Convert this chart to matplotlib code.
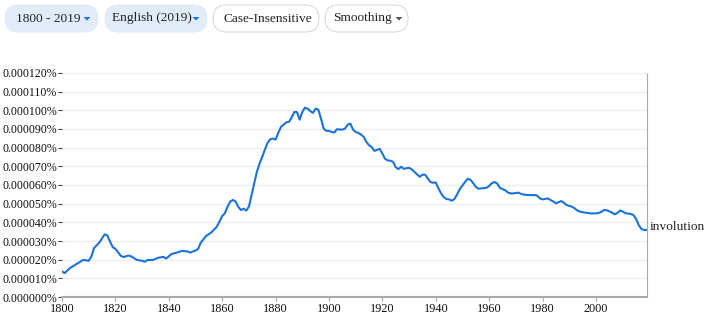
import numpy as np
import matplotlib
matplotlib.use('agg')
from matplotlib import pyplot as plt
from matplotlib.patches import FancyBboxPatch, Polygon

plt.rcParams['font.family'] = ['Liberation Serif', 'DejaVu Serif']

# data: values in millionths of a percent
years = [1800, 1801, 1803, 1805, 1808, 1810, 1811, 1812, 1814, 1816, 1817,
         1818, 1819, 1820, 1822, 1823, 1825, 1826, 1828, 1830, 1831, 1832,
         1834, 1836, 1838, 1839, 1841, 1843, 1845, 1847, 1848, 1850, 1851,
         1852, 1854, 1856, 1858, 1859, 1860, 1861, 1862, 1863, 1864, 1865,
         1866, 1867, 1868, 1869, 1870, 1871, 1872, 1873, 1874, 1875, 1876,
         1877, 1878, 1879, 1880, 1881, 1882, 1883, 1884, 1885, 1886, 1887,
         1888, 1889, 1890, 1891, 1892, 1893, 1894, 1895, 1896, 1897, 1898,
         1899, 1900, 1901, 1902, 1903, 1904, 1905, 1906, 1907, 1908, 1909,
         1910, 1911, 1912, 1913, 1914, 1915, 1916, 1917, 1918, 1919, 1920,
         1921, 1922, 1923, 1924, 1925, 1926, 1927, 1928, 1930, 1931, 1932,
         1934, 1935, 1936, 1937, 1938, 1939, 1940, 1941, 1942, 1943, 1944,
         1945, 1946, 1947, 1948, 1949, 1950, 1951, 1952, 1953, 1954, 1955,
         1956, 1957, 1958, 1959, 1960, 1961, 1962, 1963, 1964, 1965, 1966,
         1967, 1968, 1969, 1970, 1971, 1972, 1973, 1975, 1977, 1978, 1979,
         1980, 1982, 1983, 1984, 1985, 1986, 1987, 1988, 1989, 1990, 1991,
         1992, 1993, 1994, 1995, 1996, 1998, 2000, 2001, 2002, 2003, 2004,
         2005, 2006, 2007, 2008, 2009, 2010, 2011, 2012, 2013, 2014, 2015,
         2016, 2017, 2018, 2019]
values = [13.7, 12.8, 15.5, 17.3, 19.9, 19.4, 21.7, 26.2, 29.2, 33.6, 32.9,
          29.7, 26.7, 25.8, 22.1, 21.4, 22.2, 21.7, 19.9, 19.4, 18.9, 19.8,
          19.8, 21.0, 21.5, 20.6, 23.0, 23.8, 24.7, 24.4, 23.8, 24.9, 25.8,
          29.2, 32.7, 34.7, 37.7, 40.4, 43.4, 44.8, 48.4, 51.1, 52.0, 51.2,
          48.4, 46.6, 47.3, 46.3, 48.4, 54.6, 60.9, 67.1, 71.5, 75.1, 79.0,
          82.6, 84.5, 84.9, 84.3, 87.9, 91.1, 92.3, 93.6, 93.8, 96.1, 99.1,
          99.1, 95.0, 99.1, 101.4, 100.9, 99.6, 98.6, 100.9, 100.4, 95.6, 90.2,
          89.0, 89.0, 88.4, 88.1, 89.9, 89.7, 89.7, 90.2, 92.3, 92.9, 89.7,
          88.4, 87.9, 87.0, 85.8, 83.1, 81.3, 80.3, 78.3, 78.8, 79.4, 76.8,
          74.0, 73.2, 73.0, 72.4, 69.5, 68.5, 69.8, 68.7, 69.2, 68.4, 67.0,
          64.4, 65.5, 65.5, 63.5, 61.6, 61.2, 61.4, 58.2, 55.5, 53.5, 52.5,
          52.3, 51.6, 52.5, 55.0, 57.8, 59.8, 61.7, 63.3, 62.8, 61.0, 59.0,
          58.0, 58.2, 58.3, 58.5, 59.5, 61.0, 61.6, 60.8, 58.5, 57.8, 57.2,
          56.0, 55.5, 55.5, 55.7, 55.9, 55.2, 54.8, 54.6, 54.6, 54.3, 52.8,
          52.3, 52.8, 51.9, 51.2, 50.2, 50.8, 51.4, 50.5, 49.3, 48.8, 48.4,
          47.5, 46.4, 45.8, 45.4, 45.2, 44.8, 44.8, 45.0, 45.6, 46.6, 46.5,
          45.9, 45.2, 44.3, 45.0, 46.3, 45.8, 44.9, 44.7, 44.5, 43.9, 42.0,
          38.5, 36.5, 35.9, 35.9]
label = 'involution'

xticks = [1800, 1820, 1840, 1860, 1880, 1900, 1920, 1940, 1960, 1980, 2000]
yticks = [0, 10, 20, 30, 40, 50, 60, 70, 80, 90, 100, 110, 120]

buttons = ['1800 - 2019', 'English (2019)', 'Case-Insensitive', 'Smoothing']

W, H = 704, 317
fig = plt.figure(figsize=(W / 100, H / 100), dpi=100)

# main chart
left, right, top, bottom = 62, 646.7, 73, 297
ax = fig.add_axes([left / W, 1 - bottom / H, (right - left) / W,
                   (bottom - top) / H])
ax.plot(years, values, color='#1a73d9', lw=1.5, solid_capstyle='round',
        zorder=3)
ax.set_xlim(1800, 2019)
ax.set_ylim(0, 120)
ax.set_xticks(xticks)
ax.set_yticks(yticks)
ax.set_yticklabels(['{:.6f}%'.format(v * 1e-6) for v in yticks])
ax.grid(axis='y', color='#efefef', lw=1)
ax.set_axisbelow(True)
for side in ['top', 'left']:
    ax.spines[side].set_visible(False)
ax.spines['right'].set_linestyle((0, (1, 1)))
ax.spines['right'].set_color('#aaaaaa')
ax.spines['right'].set_linewidth(0.8)
ax.spines['bottom'].set_color('#aaaaaa')
ax.spines['bottom'].set_linewidth(1.5)
ax.tick_params(axis='y', length=3, width=0.8, color='#444444', pad=0.5,
               labelsize=8.6, labelcolor='#111111')
ax.tick_params(axis='x', length=3, width=0.8, color='#aaaaaa', pad=1,
               labelsize=8.8, labelcolor='#111111')
ax.annotate(label, (years[-1], values[-1]), xytext=(2, 2),
            textcoords='offset points', va='center', ha='left',
            fontsize=9.6, color='#222222', annotation_clip=False)

# control buttons drawn in pixel coordinates
ov = fig.add_axes([0, 0, 1, 1], zorder=5)
ov.set_xlim(0, W)
ov.set_ylim(H, 0)
ov.axis('off')
boxes = [(5, 98), (105, 207), (213, 319), (325, 408)]
text_x = [16, 112, 223, 333]
filled = [True, True, False, False]
arrows = [87, 196, None, 399]
for name, (x0, x1), tx, fill, arx in zip(buttons, boxes, text_x, filled,
                                         arrows):
    box = FancyBboxPatch((x0, 5), x1 - x0, 27,
                         boxstyle='round,pad=0,rounding_size=13.5',
                         fc='#e2ebf9' if fill else 'white',
                         ec='#e2ebf9' if fill else '#dadada', lw=0.8)
    ov.add_patch(box)
    ov.text(tx, 18.5, name, ha='left', va='center', fontsize=9.6,
            color='#222222')
    if arx is not None:
        ov.add_patch(Polygon([(arx - 3.5, 17), (arx + 3.5, 17), (arx, 20.5)],
                             closed=True, lw=0,
                             fc='#1a73e8' if fill else '#555555'))

fig.savefig('out.png', dpi=100)
